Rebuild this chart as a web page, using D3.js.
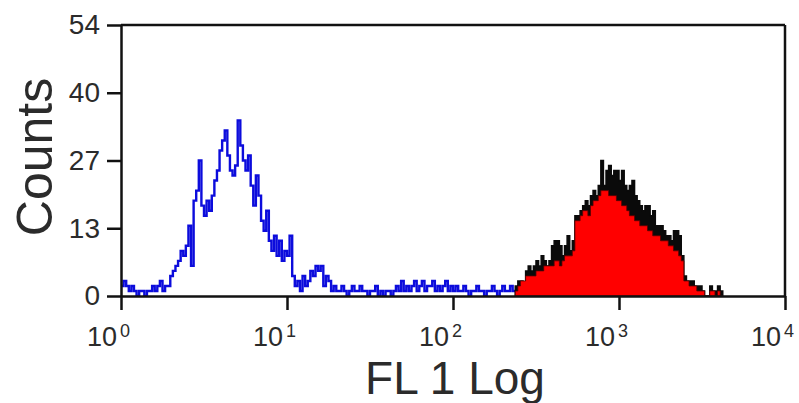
<!DOCTYPE html>
<html>
<head>
<meta charset="utf-8">
<script src="https://cdn.jsdelivr.net/npm/d3@7"></script>
<style>
    body { margin: 0; background: #fff; }
    #chart-area { width: 799px; height: 403px; }
    .axis path, .axis line { stroke: #111; stroke-width: 2.5; }
    .axis text { font-family: "Liberation Sans", Arial, sans-serif; fill: #2b2b2b; }
</style>
</head>
<body>
<div id="chart-area"></div>
<script>

// 64 channels per decade, 4 decades (256 channel flow histogram)
const channelsPerDecade = 64;

// unstained / isotype control, channels 0..151
const blueStart = 0;
const blueCounts = [
    2, 3, 2, 1, 2, 1, 0, 1, 1, 0, 1, 1, 2, 1, 2, 3,
    1, 2, 2, 4, 5, 6, 7, 9, 8, 10, 14, 6, 19, 21, 27, 18,
    16, 19, 17, 20, 23, 25, 29, 31, 33, 28, 25, 24, 26, 35, 30, 27,
    25, 28, 22, 18, 24, 20, 15, 13, 17, 11, 9, 12, 8, 11, 7, 9,
    8, 12, 4, 2, 3, 1, 4, 2, 3, 5, 4, 6, 5, 6, 2, 4,
    3, 1, 2, 1, 1, 2, 1, 0, 1, 2, 1, 1, 2, 1, 1, 0,
    1, 1, 2, 0, 1, 0, 1, 1, 0, 1, 2, 1, 3, 1, 2, 1,
    2, 3, 1, 2, 3, 1, 2, 2, 3, 1, 2, 1, 2, 3, 1, 2,
    1, 2, 1, 1, 2, 1, 0, 1, 1, 2, 1, 1, 0, 1, 1, 2,
    1, 0, 1, 2, 1, 1, 2, 1
];

// stained samples, channels 152..231
const stainedStart = 152;
const redCounts = [
    1, 2, 3, 3, 4, 4, 4, 4, 5, 5, 5, 6, 6, 6, 6, 7,
    7, 6, 7, 8, 8, 8, 9, 15, 15, 16, 17, 17, 16, 18, 19, 19,
    20, 21, 21, 21, 20, 20, 20, 19, 19, 18, 18, 17, 16, 16, 15, 15,
    14, 14, 14, 13, 13, 12, 12, 12, 11, 11, 11, 10, 10, 9, 9, 8,
    7, 3, 3, 2, 2, 2, 1, 1, 1, 0, 0, 1, 1, 0, 1, 0
];
const blackCounts = [
    2, 3, 3, 2, 5, 6, 5, 6, 7, 6, 8, 7, 6, 7, 10, 11,
    11, 10, 8, 10, 12, 9, 11, 16, 16, 17, 18, 19, 18, 20, 21, 20,
    22, 27, 22, 25, 26, 24, 25, 25, 23, 25, 22, 21, 22, 23, 20, 19,
    18, 17, 18, 18, 16, 17, 14, 14, 14, 13, 12, 12, 11, 13, 13, 12,
    8, 4, 3, 3, 3, 2, 2, 2, 1, 0, 0, 2, 1, 1, 2, 1
];

// axis ticks
const yTickValues = [0, 13.5, 27, 40.5, 54];
const yTickLabels = ["0", "13", "27", "40", "54"];
const xTickExponents = [0, 1, 2, 3, 4];


class cFlowHistogram {

    constructor(_parentElement) {
        this.parentElement = _parentElement;
        this.initVis();
    }

    initVis() {
        let vis = this;

        vis.margin = { top: 25, right: 14, bottom: 107, left: 121 };
        vis.width = 799 - vis.margin.left - vis.margin.right;
        vis.height = 403 - vis.margin.top - vis.margin.bottom;

        vis.svg = d3.select("#" + vis.parentElement).append("svg")
            .attr("width", 799)
            .attr("height", 403)
            .append("g")
            .attr("transform", "translate(" + vis.margin.left + "," + vis.margin.top + ")");

        vis.x = d3.scaleLog()
            .domain([1, 10000])
            .range([0, vis.width]);

        vis.y = d3.scaleLinear()
            .domain([0, 54])
            .range([vis.height, 0]);

        vis.svg.append("clipPath")
            .attr("id", "plot-clip")
            .append("rect")
            .attr("width", vis.width)
            .attr("height", vis.height);

        vis.plot = vis.svg.append("g").attr("clip-path", "url(#plot-clip)");

        vis.wrangleData();
    }

    // turn channel counts into step points (left edge of every channel + closing edge)
    toSteps(start, counts) {
        let pts = counts.map((c, i) => ({ v: Math.pow(10, (start + i) / channelsPerDecade), c: c }));
        pts.push({ v: Math.pow(10, (start + counts.length) / channelsPerDecade), c: counts[counts.length - 1] });
        return pts;
    }

    wrangleData() {
        let vis = this;

        vis.blueData = vis.toSteps(blueStart, blueCounts);
        vis.redData = vis.toSteps(stainedStart, redCounts);
        vis.blackData = vis.toSteps(stainedStart, blackCounts);

        vis.updateVis();
    }

    updateVis() {
        let vis = this;

        let line = d3.line()
            .curve(d3.curveStepAfter)
            .x(d => vis.x(d.v))
            .y(d => vis.y(d.c));

        let area = d3.area()
            .curve(d3.curveStepAfter)
            .x(d => vis.x(d.v))
            .y0(vis.y(0))
            .y1(d => vis.y(d.c));

        vis.plot.append("path")
            .datum(vis.blueData)
            .attr("fill", "none")
            .attr("stroke", "#0c0cdc")
            .attr("stroke-width", 2.4)
            .attr("d", line);

        vis.plot.append("path")
            .datum(vis.blackData)
            .attr("fill", "#0a0a0a")
            .attr("stroke", "#0a0a0a")
            .attr("stroke-width", 1.5)
            .attr("d", area);

        vis.plot.append("path")
            .datum(vis.redData)
            .attr("fill", "#ff0000")
            .attr("stroke", "#5a0000")
            .attr("stroke-width", 0.8)
            .attr("d", area);

        // y axis
        let yAxis = d3.axisLeft(vis.y)
            .tickValues(yTickValues)
            .tickFormat((d, i) => yTickLabels[i])
            .tickSize(14)
            .tickSizeOuter(0)
            .tickPadding(7);

        vis.svg.append("g")
            .attr("class", "y-axis axis")
            .call(yAxis)
            .selectAll("text")
            .style("font-size", "28px");

        // x axis, labels drawn by hand as 10 + superscript
        let xAxis = d3.axisBottom(vis.x)
            .tickValues(xTickExponents.map(e => Math.pow(10, e)))
            .tickFormat("")
            .tickSize(14)
            .tickSizeOuter(0);

        let gx = vis.svg.append("g")
            .attr("class", "x-axis axis")
            .attr("transform", "translate(0," + vis.height + ")")
            .call(xAxis);

        let lab = gx.selectAll(".pow-label")
            .data(xTickExponents)
            .enter().append("text")
            .attr("class", "pow-label")
            .attr("text-anchor", "start")
            .attr("x", e => vis.x(Math.pow(10, e)) - 34)
            .attr("y", 50)
            .style("font-size", "27px");

        lab.append("tspan").text("10");

        lab.append("tspan")
            .attr("dx", 3)
            .attr("dy", -9)
            .style("font-size", "18px")
            .text(e => e);

        // top and right frame
        vis.svg.append("line")
            .attr("x1", 0).attr("x2", vis.width)
            .attr("y1", 0).attr("y2", 0)
            .attr("stroke", "#111").attr("stroke-width", 2.5);

        vis.svg.append("line")
            .attr("x1", vis.width).attr("x2", vis.width)
            .attr("y1", 0).attr("y2", vis.height)
            .attr("stroke", "#111").attr("stroke-width", 2.5);

        // axis titles
        vis.svg.append("text")
            .attr("x", 334)
            .attr("y", vis.height + 98)
            .attr("text-anchor", "middle")
            .style("font-family", "'Liberation Sans', Arial, sans-serif")
            .style("font-size", "46px")
            .style("fill", "#2b2b2b")
            .text("FL 1 Log");

        vis.svg.append("text")
            .attr("transform", "translate(" + (-69) + "," + 132 + ") rotate(-90)")
            .attr("text-anchor", "middle")
            .style("font-family", "'Liberation Sans', Arial, sans-serif")
            .style("font-size", "50px")
            .style("fill", "#2b2b2b")
            .text("Counts");
    }
}

new cFlowHistogram("chart-area");
</script>
</body>
</html>
